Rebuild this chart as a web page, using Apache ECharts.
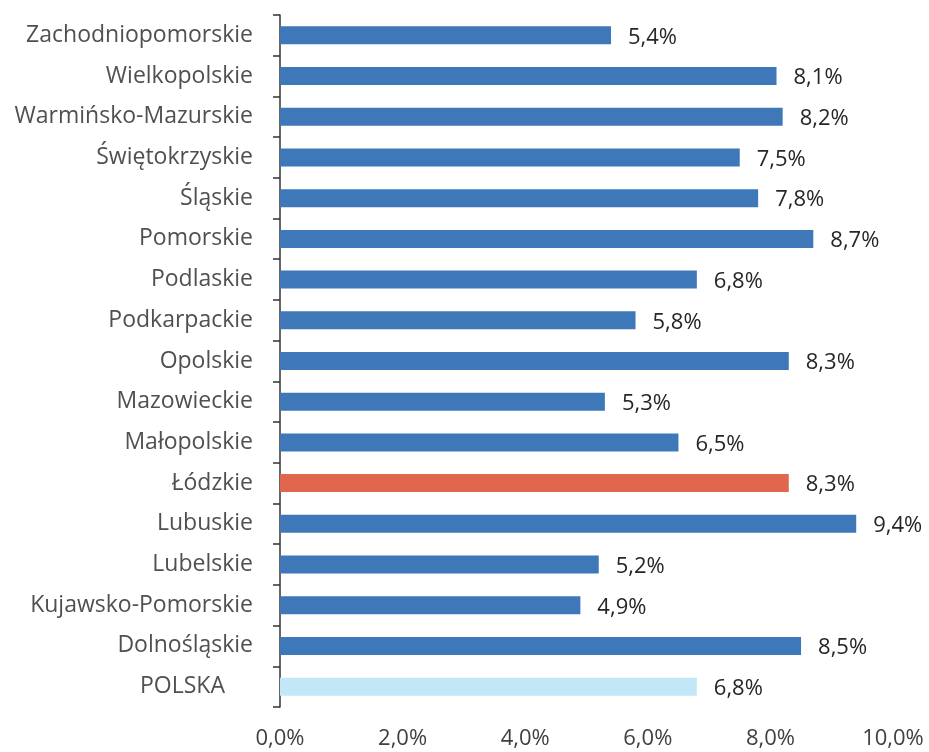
<!DOCTYPE html>
<html>
<head>
<meta charset="utf-8">
<script src="https://cdn.jsdelivr.net/npm/echarts@6/dist/echarts.min.js"></script>
<style>
    html, body { margin: 0; padding: 0; background: #fff; }
    #chart { width: 929px; height: 752px; }
</style>
</head>
<body>
<div id="chart"></div>
<script>
// top to bottom, as in the picture
const regions = [
    "Zachodniopomorskie", "Wielkopolskie", "Warmińsko-Mazurskie", "Świętokrzyskie",
    "Śląskie", "Pomorskie", "Podlaskie", "Podkarpackie", "Opolskie", "Mazowieckie",
    "Małopolskie", "Łódzkie", "Lubuskie", "Lubelskie", "Kujawsko-Pomorskie",
    "Dolnośląskie", "POLSKA"
];
const rates = [5.4, 8.1, 8.2, 7.5, 7.8, 8.7, 6.8, 5.8, 8.3, 5.3, 6.5, 8.3, 9.4, 5.2, 4.9, 8.5, 6.8];
const highlight = "Łódzkie";
const total = "POLSKA";

const fmt = v => v.toFixed(1).replace(".", ",") + "%";

const chart = echarts.init(document.getElementById("chart"));

const barData = regions.map((name, i) => ({
    value: rates[i],
    itemStyle: {
        color: name === highlight ? "#e0674b" : name === total ? "#c2e7f7" : "#3f78b8",
    },
}));

chart.setOption({
    animation: false,
    textStyle: { fontFamily: "Open Sans" },
    grid: { left: 280, right: 36, top: 15, bottom: 45 },
    xAxis: {
        type: "value",
        min: 0,
        max: 10,
        interval: 2,
        splitLine: { show: false },
        axisLine: { show: false },
        axisTick: { show: false },
        axisLabel: {
            margin: 21,
            fontSize: 22,
            color: "#404040",
            formatter: v => fmt(v),
        },
    },
    yAxis: {
        type: "category",
        inverse: true,
        data: regions,
        axisLine: { show: true, lineStyle: { color: "#333", width: 1.5 } },
        axisTick: { show: true, length: 7, lineStyle: { color: "#333", width: 1.5 } },
        axisLabel: {
            margin: 27,
            fontSize: 23,
            color: "#505050",
            // the total row label sits a bit further left
            formatter: v => (v === total ? "{t|" + v + "}" : v),
            rich: {
                t: { fontSize: 23, color: "#505050", padding: [0, 28, 0, 0] },
            },
        },
    },
    series: [
        {
            type: "bar",
            data: barData,
            barWidth: 18,
            label: {
                show: true,
                position: "right",
                distance: 17,
                offset: [0, 2],
                fontSize: 22,
                color: "#262626",
                formatter: p => fmt(p.value),
            },
        },
    ],
});
</script>
</body>
</html>
